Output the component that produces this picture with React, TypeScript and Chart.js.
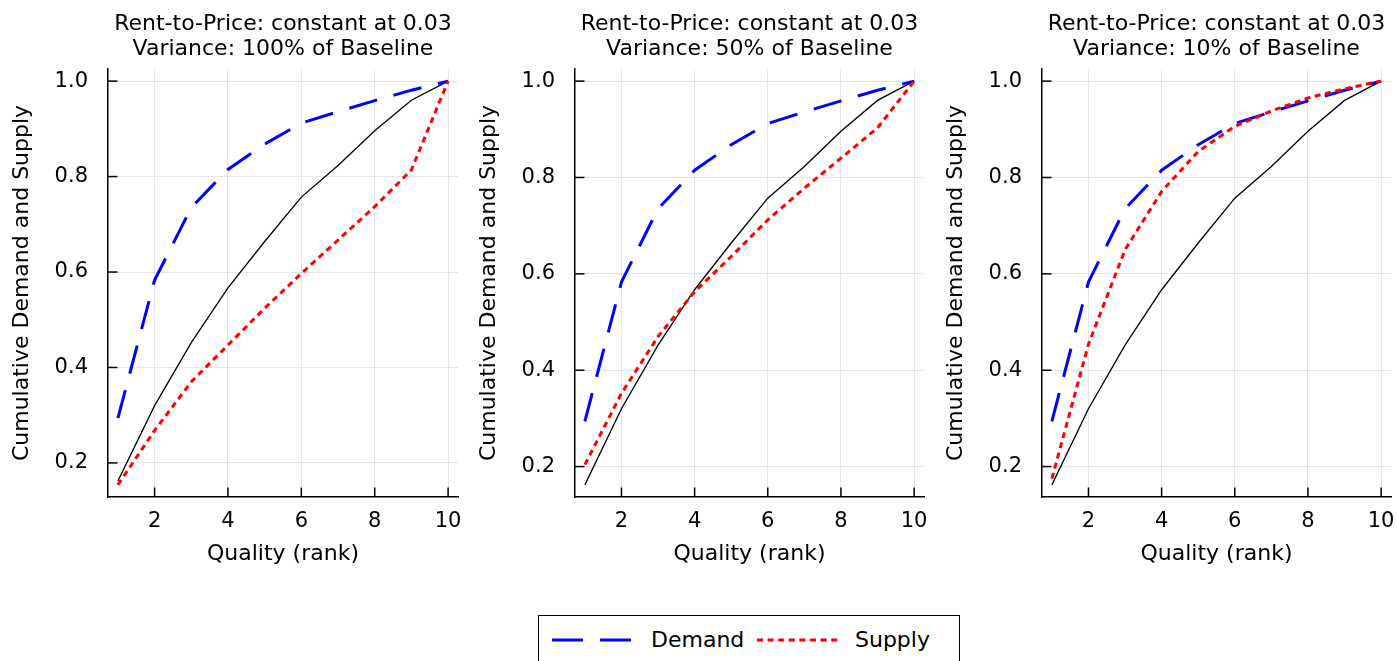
import React, { useEffect, useRef } from "react";
import { Chart, registerables } from "chart.js";

Chart.register(...registerables);

// ---------- data ----------
const quality = [1, 2, 3, 4, 5, 6, 7, 8, 9, 10];
const baseline = [0.162, 0.32, 0.452, 0.567, 0.664, 0.757, 0.823, 0.896, 0.96, 1.0];
const demand = [0.294, 0.583, 0.735, 0.815, 0.868, 0.912, 0.936, 0.959, 0.981, 1.0];
const supply100 = [0.154, 0.268, 0.37, 0.447, 0.524, 0.597, 0.667, 0.737, 0.814, 1.0];
const supply50 = [0.204, 0.352, 0.47, 0.563, 0.636, 0.712, 0.778, 0.84, 0.903, 1.0];
const supply10 = [0.175, 0.454, 0.65, 0.771, 0.854, 0.906, 0.938, 0.965, 0.984, 1.0];
const xTicks = [2, 4, 6, 8, 10];
const yTicks = [0.2, 0.4, 0.6, 0.8, 1.0];
const titleLine1 = "Rent-to-Price: constant at 0.03";
const varianceLabels = ["100%", "50%", "10%"];
const xAxisTitle = "Quality (rank)";
const yAxisTitle = "Cumulative Demand and Supply";
const legendLabels = ["Demand", "Supply"];

const FONT = "'DejaVu Sans', sans-serif";

const innerTicks = {
  id: "innerTicks",
  afterDatasetsDraw(chart: any) {
    const { ctx, chartArea, scales } = chart;
    const { left, bottom } = chartArea;
    ctx.save();
    ctx.strokeStyle = "#000";
    ctx.lineWidth = 1.5;
    xTicks.forEach((v) => {
      const px = scales.x.getPixelForValue(v);
      ctx.beginPath();
      ctx.moveTo(px, bottom);
      ctx.lineTo(px, bottom - 9.5);
      ctx.stroke();
    });
    yTicks.forEach((v) => {
      const py = scales.y.getPixelForValue(v);
      ctx.beginPath();
      ctx.moveTo(left, py);
      ctx.lineTo(left + 9.5, py);
      ctx.stroke();
    });
    ctx.restore();
  },
};

function makeConfig(supply: number[], variance: string, yAxisWidth: number, padRight: number): any {
  const all = [...baseline, ...demand, ...supply];
  const lo = Math.min(...all);
  const hi = Math.max(...all);
  const ypad = 0.03 * (hi - lo);
  const xlo = quality[0];
  const xhi = quality[quality.length - 1];
  const xpad = 0.03 * (xhi - xlo);
  const pts = (arr: number[]) => quality.map((x, i) => ({ x, y: arr[i] }));
  const tickFont = { family: FONT, size: 21, weight: "normal" as const, lineHeight: 1.2 };
  const guideFont = { family: FONT, size: 22, weight: "normal" as const, lineHeight: 1.2 };
  return {
    type: "line",
    data: {
      datasets: [
        { label: "baseline", data: pts(baseline), borderColor: "#000", borderWidth: 1.3, order: 3 },
        { label: legendLabels[0], data: pts(demand), borderColor: "#0000ff", borderWidth: 3, borderDash: [29, 17], order: 2 },
        { label: legendLabels[1], data: pts(supply), borderColor: "#ff0000", borderWidth: 3, borderDash: [6, 4.5], order: 1 },
      ],
    },
    options: {
      responsive: false,
      animation: false,
      devicePixelRatio: 1,
      layout: { padding: { left: 0, right: padRight, top: 0, bottom: 0 } },
      elements: {
        point: { radius: 0, hoverRadius: 0 },
        line: { tension: 0, borderCapStyle: "butt", fill: false },
      },
      plugins: {
        legend: { display: false },
        tooltip: { enabled: false },
        title: {
          display: true,
          fullSize: false,
          text: [titleLine1, `Variance: ${variance} of Baseline`],
          color: "#000",
          font: { family: FONT, size: 22, weight: "normal", lineHeight: "25px" },
          padding: { top: 11.5, bottom: 7.5 },
        },
      },
      scales: {
        x: {
          type: "linear",
          min: xlo - xpad,
          max: xhi + xpad,
          afterBuildTicks: (s: any) => {
            s.ticks = xTicks.map((v) => ({ value: v }));
          },
          afterFit: (s: any) => {
            s.height = 103;
            s.paddingLeft = 0;
            s.paddingRight = 0;
          },
          grid: { color: "rgba(0,0,0,0.1)", lineWidth: 1, drawTicks: false },
          border: { color: "#000", width: 1.5 },
          ticks: {
            color: "#000",
            font: tickFont,
            padding: 12,
            maxRotation: 0,
            autoSkip: false,
            callback: (v: any) => String(v),
          },
          title: { display: true, text: xAxisTitle, color: "#000", font: guideFont, padding: { top: 0, bottom: 33 } },
        },
        y: {
          type: "linear",
          min: lo - ypad,
          max: hi + ypad,
          afterBuildTicks: (s: any) => {
            s.ticks = yTicks.map((v) => ({ value: v }));
          },
          afterFit: (s: any) => {
            s.width = yAxisWidth;
            s.paddingTop = 0;
            s.paddingBottom = 0;
          },
          grid: { color: "rgba(0,0,0,0.1)", lineWidth: 1, drawTicks: false },
          border: { color: "#000", width: 1.5 },
          ticks: {
            color: "#000",
            font: tickFont,
            padding: 20,
            autoSkip: false,
            callback: (v: any) => Number(v).toFixed(1),
          },
          title: {
            display: true,
            text: yAxisTitle,
            color: "#000",
            font: guideFont,
            padding: { top: 9 + (yAxisWidth - 108), bottom: 0 },
          },
        },
      },
    },
    plugins: [innerTicks],
  };
}

function Panel(props: { supply: number[]; variance: string; left: number; width: number; yAxisWidth: number; padRight: number }) {
  const ref = useRef<HTMLCanvasElement | null>(null);
  useEffect(() => {
    if (!ref.current) return;
    const chart = new Chart(ref.current, makeConfig(props.supply, props.variance, props.yAxisWidth, props.padRight));
    return () => chart.destroy();
  }, []);
  return (
    <canvas
      ref={ref}
      width={props.width}
      height={600}
      style={{ position: "absolute", left: props.left, top: 0, width: props.width, height: 600 }}
    />
  );
}

function Legend() {
  const textStyle: React.CSSProperties = {
    position: "absolute",
    top: 11,
    fontFamily: FONT,
    fontSize: 22,
    lineHeight: "25px",
    color: "#000",
    whiteSpace: "nowrap",
  };
  return (
    <div
      style={{
        position: "absolute",
        left: 538,
        top: 615,
        width: 422,
        height: 50,
        border: "1px solid #000",
        background: "#fff",
        boxSizing: "border-box",
      }}
    >
      <svg width={422} height={50} style={{ position: "absolute", left: -1, top: -1 }}>
        <line x1={14} y1={25} x2={95} y2={25} stroke="#0000ff" strokeWidth={3} strokeDasharray="31 17" />
        <line x1={219} y1={25} x2={302} y2={25} stroke="#ff0000" strokeWidth={3} strokeDasharray="6 4.6" />
      </svg>
      <span style={{ ...textStyle, left: 112 }}>{legendLabels[0]}</span>
      <span style={{ ...textStyle, left: 316 }}>{legendLabels[1]}</span>
    </div>
  );
}

export default function App() {
  return (
    <div style={{ position: "absolute", left: 0, top: 0, width: 1397, height: 661, background: "#fff", overflow: "hidden" }}>
      <Panel supply={supply100} variance={varianceLabels[0]} left={0} width={466} yAxisWidth={108} padRight={8} />
      <Panel supply={supply50} variance={varianceLabels[1]} left={466} width={466} yAxisWidth={109} padRight={8} />
      <Panel supply={supply10} variance={varianceLabels[2]} left={932} width={465} yAxisWidth={110} padRight={6} />
      <Legend />
    </div>
  );
}
